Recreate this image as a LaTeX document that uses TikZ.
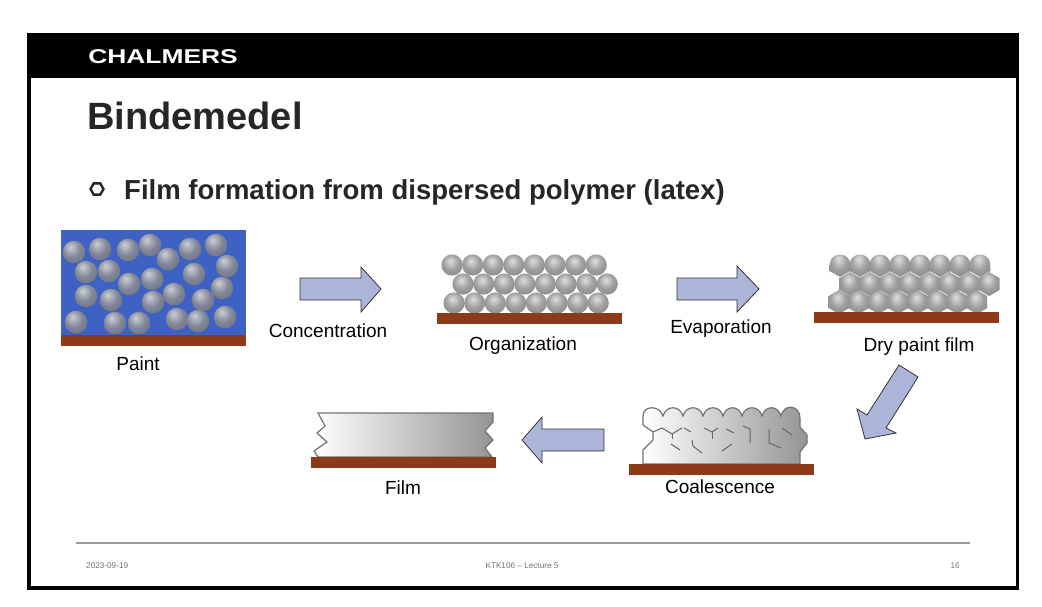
\documentclass[tikz,border=0pt]{standalone}
\usepackage{fontspec}
\setmainfont{Liberation Sans}
\usetikzlibrary{shapes.geometric}
\definecolor{barbrown}{RGB}{140,58,24}
\definecolor{paintblue}{RGB}{62,97,196}
\definecolor{arrowblue}{RGB}{172,180,216}
\definecolor{titlegray}{RGB}{38,38,38}
\definecolor{ballmid}{RGB}{128,134,152}
\definecolor{balledge}{RGB}{70,74,88}
\pgfdeclareradialshading{paintball}{\pgfpoint{-8bp}{12bp}}{color(0bp)=(white!60!ballmid); color(20bp)=(ballmid); color(42bp)=(ballmid!80!black); color(62bp)=(balledge)}
\pgfdeclareradialshading{greyball}{\pgfpoint{-4bp}{10bp}}{color(0bp)=(white!75!gray); color(18bp)=(gray!75!white); color(40bp)=(gray); color(60bp)=(gray!55!black)}
\tikzset{
    bar/.style={fill=barbrown,draw=none},
    blockarrow/.style={draw=black!80,fill=arrowblue,line width=0.8pt,line join=miter},
    caption/.style={font=\fontsize{19}{21}\selectfont,text=black,inner sep=0pt,anchor=base},
    footer/.style={font=\fontsize{8.2}{9}\selectfont,text=black!55,inner sep=0pt},
    crack/.style={draw=black!60,line width=1pt},
    filmbody/.style={left color=white,right color=black!42,draw=black!55,line width=1.2pt}
}
\newcommand{\hexcell}[2]{\shade[shading=greyball] (#1,#2-12) -- (#1+10.3,#2-6) -- (#1+10.3,#2+6) -- (#1,#2+12) -- (#1-10.3,#2+6) -- (#1-10.3,#2-6) -- cycle;}
\newcommand{\domecell}[2]{\shade[shading=greyball] (#1-10.3,#2) .. controls (#1-10.3,#2-14) and (#1+10.3,#2-14) .. (#1+10.3,#2) -- (#1+10.3,#2+6) -- (#1,#2+12) -- (#1-10.3,#2+6) -- cycle;}
\begin{document}
\begin{tikzpicture}[x=1pt,y=-1pt]
    \useasboundingbox (0,0) rectangle (1042,606);
    \fill[white] (0,0) rectangle (1042,606);
    % frame and header
    \fill[black] (27,33) rectangle (1019,590);
    \fill[white] (31,78) rectangle (1016,586);
    \node[anchor=west,inner sep=0pt,text=white,xscale=1.32,font=\bfseries\fontsize{20}{22}\selectfont] (logo) at (88,57) {CHALMERS};
    \node[anchor=west,inner sep=0pt,text=titlegray,font=\bfseries\fontsize{38}{40}\selectfont] (title) at (87,116) {Bindemedel};
    \node[regular polygon,regular polygon sides=6,draw=titlegray,line width=2.4pt,minimum size=13pt,inner sep=0pt] (bullet) at (97,189) {};
    \node[anchor=west,inner sep=0pt,text=titlegray,font=\bfseries\fontsize{27.5}{30}\selectfont] (subtitle) at (124,192) {Film formation from dispersed polymer (latex)};

    % paint
    \fill[paintblue] (61,230) rectangle (246,336);
    \foreach \x/\y in {74/252,100/249,128/250,150/245,168/259,190/249,216/245,227/266,
                       86/272,109/271,129/284,152/279,194/274,222/288,
                       86/296,111/300,153/302,174/294,203/300,
                       76/322,115/323,139/323,177/319,198/321,225/317}
        \shade[shading=paintball] (\x,\y) circle (11.3pt);
    \fill[bar] (61,335) rectangle (246,346);
    \node[caption] (paint) at (138,370) {Paint};

    % concentration
    \draw[blockarrow] (300,278) -- (361,278) -- (361,267) -- (381,289) -- (361,312) -- (361,300) -- (300,300) -- cycle;
    \node[caption] (concentration) at (328,337) {Concentration};

    % organization
    \foreach \i in {0,...,7} {
        \shade[shading=greyball] (452+20.6*\i,265) circle (10.6pt);
        \shade[shading=greyball] (463+20.6*\i,284) circle (10.6pt);
        \shade[shading=greyball] (454+20.6*\i,303) circle (10.6pt);
    }
    \fill[bar] (437,313) rectangle (622,324);
    \node[caption] (organization) at (523,350) {Organization};

    % evaporation
    \draw[blockarrow] (677,278) -- (737,278) -- (737,266) -- (759,289) -- (737,312) -- (737,300) -- (677,300) -- cycle;
    \node[caption] (evaporation) at (721,333) {Evaporation};

    % dry paint film
    \foreach \i in {0,...,7} {
        \hexcell{839+19.7*\i}{302}
        \hexcell{850+19.9*\i}{284}
        \domecell{840+20*\i}{265}
    }
    \fill[bar] (814,312) rectangle (999,323);
    \node[caption] (dryfilm) at (919,351) {Dry paint film};

    \draw[blockarrow] (899,365) -- (918,377) -- (886,428) -- (896,433) -- (865,439) -- (857,409) -- (867,415) -- cycle;

    % coalescence
    \draw[filmbody] (643,464) -- (643,450) -- (653,440) -- (653,432) -- (643,425) -- (643,416)
        .. controls (643,405) and (660,405) .. (663,416)
        .. controls (666,405) and (680,405) .. (683,416)
        .. controls (686,405) and (700,405) .. (703,416)
        .. controls (706,405) and (720,405) .. (723,416)
        .. controls (726,405) and (739,405) .. (742,416)
        .. controls (745,405) and (759,405) .. (762,416)
        .. controls (765,405) and (778,405) .. (781,416)
        .. controls (784,403) and (800,405) .. (800,418)
        -- (800,427) -- (807,435) -- (807,443) -- (800,452) -- (800,464) -- cycle;
    \draw[crack] (653,432) -- (662,428) -- (672,434) -- (682,428);
    \draw[crack] (672,434) -- (672,439);
    \draw[crack] (684,428) -- (691,432);
    \draw[crack] (692,440) -- (693,446) -- (702,453);
    \draw[crack] (671,444) -- (680,450);
    \draw[crack] (704,428) -- (712,432) -- (718,428);
    \draw[crack] (712,432) -- (712,439);
    \draw[crack] (726,429) -- (734,433);
    \draw[crack] (722,451) -- (732,444);
    \draw[crack] (743,426) -- (750,429) -- (750,443);
    \draw[crack] (769,429) -- (769,443) -- (781,448);
    \draw[crack] (782,428) -- (792,435);
    \fill[bar] (629,464) rectangle (814,474.5);
    \node[caption] (coalescence) at (720,493) {Coalescence};

    \draw[blockarrow] (604,429) -- (542,429) -- (542,417) -- (522,440) -- (542,463) -- (542,451) -- (604,451) -- cycle;

    % film
    \draw[filmbody] (318,413) -- (493,413) -- (493,422) -- (485,431) -- (493,440) -- (485,448) -- (492,457) -- (318,457) -- (314,451) -- (327,442) -- (317,433) -- (325,426) -- cycle;
    \fill[bar] (311,457) rectangle (495.5,468);
    \node[caption] (film) at (403,494) {Film};

    % footer
    \draw[black!40,line width=1.5pt] (76,543) -- (970,543);
    \node[footer,anchor=west] (date) at (86,566) {2023-09-19};
    \node[footer] (course) at (522,566) {KTK106 -- Lecture 5};
    \node[footer,anchor=east] (page) at (960,566) {16};
\end{tikzpicture}
\end{document}
